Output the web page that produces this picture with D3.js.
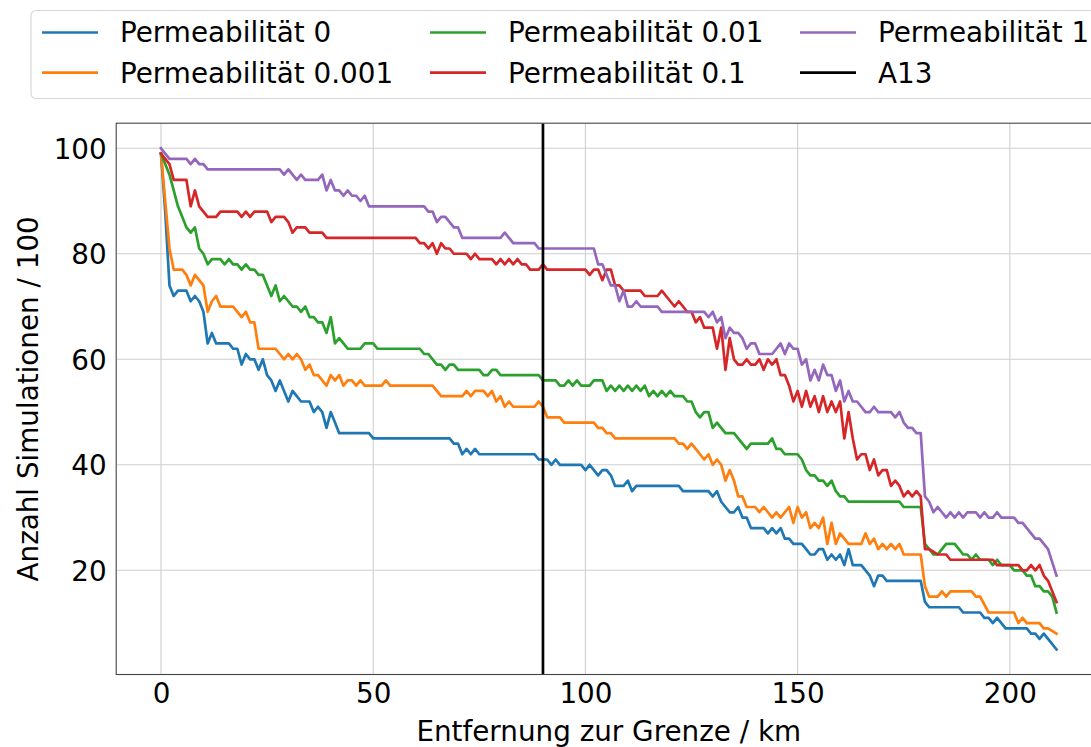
<!DOCTYPE html>
<html>
<head>
<meta charset="utf-8">
<script src="https://cdn.jsdelivr.net/npm/d3@7"></script>
<style>
  html, body { margin: 0; padding: 0; background: #fff; }
  svg { display: block; }
  text { font-family: "DejaVu Sans", sans-serif; fill: #000; }
</style>
</head>
<body>
<svg id="chart" width="1091" height="747"></svg>
<script>
// Share of simulations (out of 100) that still reach a given distance from the border,
// one series per permeability. Each entry is [distance km, count]; flat stretches
// are given only by their end points.
const perm0 = [[0,99],[1,88],[2,74],[3,72],[4,73],[6,73],[7,71],[8,72],[9,71],[10,69],[11,63],[12,65],[13,63],[16,63],[17,62],[18,62],[19,59],[20,61],[21,60],[22,60],[23,58],[24,60],[25,57],[26,56],[27,54],[28,56],[29,54],[30,52],[31,54],[32,53],[33,52],[35,52],[36,50],[37,51],[38,50],[39,47],[40,50],[41,48],[42,46],[49,46],[50,45],[68,45],[69,44],[70,44],[71,42],[72,43],[73,42],[74,43],[75,42],[88,42],[89,41],[91,41],[92,40],[93,41],[94,40],[99,40],[100,39],[101,40],[102,39],[103,38],[104,39],[105,39],[106,38],[107,36],[109,36],[110,37],[111,35],[112,36],[122,36],[123,35],[129,35],[130,34],[131,35],[132,33],[133,32],[134,31],[135,31],[136,32],[137,30],[138,30],[139,28],[142,28],[143,27],[144,28],[145,27],[146,28],[147,26],[148,26],[149,25],[151,25],[152,24],[153,23],[154,23],[155,24],[156,24],[157,22],[158,23],[159,22],[160,23],[161,21],[162,24],[163,21],[165,21],[166,20],[167,19],[168,17],[169,19],[170,19],[171,18],[179,18],[180,14],[181,13],[188,13],[189,12],[193,12],[194,11],[195,11],[196,10],[197,11],[198,10],[199,9],[204,9],[205,8],[206,8],[207,7],[208,8],[209,7],[211,5]];

const perm0001 = [[0,99],[1,90],[2,81],[3,77],[5,77],[6,76],[7,74],[8,76],[9,75],[10,74],[11,69],[12,71],[13,72],[14,70],[17,70],[18,69],[19,68],[20,69],[21,67],[22,67],[23,62],[27,62],[28,61],[29,60],[30,61],[31,60],[32,61],[33,60],[34,58],[35,59],[36,57],[37,57],[38,56],[39,55],[40,57],[41,56],[42,57],[43,55],[44,56],[45,56],[46,55],[47,56],[48,55],[52,55],[53,56],[54,55],[64,55],[65,54],[66,53],[71,53],[72,54],[73,53],[74,54],[76,54],[77,53],[78,54],[79,52],[80,53],[81,51],[82,52],[83,51],[88,51],[89,52],[90,51],[91,49],[94,49],[95,48],[102,48],[103,47],[104,47],[105,46],[106,46],[107,45],[121,45],[122,44],[123,44],[124,43],[125,44],[126,43],[127,42],[128,41],[129,42],[130,40],[131,41],[132,40],[133,37],[134,39],[135,37],[136,34],[137,34],[138,32],[140,32],[141,31],[142,32],[143,31],[144,30],[145,31],[146,30],[147,31],[148,32],[149,29],[150,32],[151,30],[152,31],[153,28],[154,29],[155,28],[156,30],[157,25],[158,29],[159,25],[160,27],[161,26],[162,25],[165,25],[166,27],[167,25],[168,26],[169,24],[170,25],[171,24],[172,25],[173,24],[174,25],[175,23],[179,23],[180,17],[181,15],[183,15],[184,16],[185,15],[186,16],[191,16],[192,15],[193,15],[195,12],[201,12],[202,10],[203,11],[204,10],[207,10],[208,9],[209,9],[211,8]];

const perm001 = [[0,99],[1,97],[2,95],[3,92],[4,89],[5,87],[6,85],[7,84],[8,85],[9,81],[10,80],[11,78],[12,79],[14,79],[15,78],[16,79],[17,78],[18,78],[19,77],[20,78],[21,77],[22,77],[23,76],[24,76],[25,74],[26,72],[27,74],[28,71],[29,72],[30,71],[31,70],[32,70],[33,69],[34,70],[35,68],[36,68],[37,67],[38,67],[39,65],[40,68],[41,63],[42,64],[43,63],[44,62],[47,62],[48,63],[50,63],[51,62],[61,62],[62,61],[63,61],[64,60],[65,59],[66,59],[67,58],[68,59],[69,59],[70,58],[75,58],[76,57],[77,57],[78,58],[79,58],[80,57],[89,57],[90,56],[93,56],[94,55],[95,55],[96,56],[97,55],[98,56],[99,55],[101,55],[102,56],[104,56],[105,54],[106,55],[107,54],[108,55],[109,54],[110,55],[111,54],[112,55],[113,54],[114,55],[115,53],[116,54],[117,53],[118,54],[119,53],[120,54],[121,53],[123,53],[124,52],[125,52],[126,50],[127,49],[128,50],[129,50],[130,47],[131,48],[132,47],[133,46],[135,46],[136,45],[137,44],[138,43],[139,44],[143,44],[144,45],[145,43],[146,43],[147,42],[150,42],[151,41],[152,39],[153,38],[154,38],[155,37],[156,37],[157,36],[158,37],[159,35],[160,34],[161,34],[162,33],[174,33],[175,32],[179,32],[180,25],[181,24],[182,23],[183,23],[184,24],[185,25],[187,25],[188,24],[189,23],[190,23],[191,22],[192,23],[193,22],[195,22],[196,21],[197,22],[198,21],[200,21],[201,20],[203,20],[204,19],[205,19],[206,17],[207,17],[208,16],[209,16],[210,15],[211,12]];

const perm01 = [[0,99],[1,98],[2,97],[3,94],[6,94],[7,89],[8,92],[9,89],[10,88],[11,87],[13,87],[14,88],[18,88],[19,87],[20,88],[21,87],[22,88],[25,88],[26,86],[27,87],[29,87],[30,86],[31,84],[32,85],[34,85],[35,84],[38,84],[39,83],[60,83],[61,82],[62,82],[63,81],[64,82],[65,80],[66,82],[67,81],[68,81],[69,80],[72,80],[73,79],[74,80],[75,79],[78,79],[79,78],[80,79],[81,78],[82,79],[83,78],[84,79],[85,78],[86,78],[87,77],[89,77],[90,78],[91,77],[100,77],[101,76],[102,77],[103,77],[104,75],[105,77],[106,77],[107,74],[108,74],[109,73],[113,73],[114,72],[117,72],[118,73],[119,72],[120,71],[121,70],[122,71],[123,70],[124,69],[125,69],[126,67],[127,68],[128,66],[130,66],[131,62],[132,66],[133,58],[134,64],[135,60],[136,59],[137,59],[138,60],[139,59],[140,59],[141,60],[142,58],[143,60],[144,59],[145,60],[146,57],[147,57],[148,55],[149,52],[150,54],[151,51],[152,54],[153,51],[154,53],[155,50],[156,53],[157,50],[158,52],[159,50],[160,52],[161,45],[162,50],[163,45],[164,41],[165,42],[166,42],[167,39],[168,41],[169,38],[170,39],[171,39],[172,36],[173,37],[174,36],[175,34],[176,35],[177,34],[178,35],[179,34],[180,24],[181,24],[183,23],[185,23],[186,22],[196,22],[197,21],[202,21],[203,20],[204,20],[205,21],[206,20],[207,21],[208,19],[209,18],[211,14]];

const perm1 = [[0,100],[1,99],[2,98],[6,98],[7,97],[8,98],[9,97],[10,97],[11,96],[28,96],[29,95],[30,96],[31,95],[32,94],[33,95],[34,94],[37,94],[38,95],[39,92],[40,94],[41,92],[42,92],[43,91],[44,92],[45,91],[46,91],[47,90],[48,91],[49,89],[62,89],[63,88],[64,88],[65,86],[66,87],[67,87],[68,86],[69,85],[70,85],[71,83],[80,83],[81,84],[82,83],[83,82],[88,82],[89,81],[102,81],[103,78],[104,78],[105,76],[106,74],[107,74],[108,71],[109,73],[110,70],[111,70],[112,71],[113,70],[117,70],[118,69],[128,69],[129,68],[130,69],[131,67],[132,68],[133,64],[134,66],[135,65],[136,65],[137,64],[138,62],[139,63],[140,63],[141,61],[144,61],[145,62],[146,63],[147,61],[148,63],[149,62],[150,62],[151,59],[152,60],[153,56],[154,58],[155,56],[156,59],[157,57],[158,57],[159,54],[160,56],[161,52],[162,54],[163,52],[164,52],[165,51],[166,50],[167,50],[168,51],[169,50],[172,50],[173,49],[174,50],[175,48],[176,47],[177,47],[178,46],[179,46],[180,34],[181,33],[182,31],[183,32],[184,31],[185,30],[186,31],[187,30],[188,31],[189,30],[190,31],[192,31],[193,30],[194,31],[195,30],[196,30],[197,31],[198,30],[201,30],[202,29],[203,29],[204,28],[205,27],[206,26],[207,26],[208,25],[209,24],[211,19]];

const seriesNames = ["Permeabilität 0", "Permeabilität 0.001", "Permeabilität 0.01", "Permeabilität 0.1", "Permeabilität 1"];
const seriesData = [perm0, perm0001, perm001, perm01, perm1];
const seriesColors = ["#1f77b4", "#ff7f0e", "#2ca02c", "#d62728", "#9467bd"];

// Position of the A13 motorway
const a13Label = "A13";
const a13Distance = 90;

const xTicks = [0, 50, 100, 150, 200];
const yTicks = [20, 40, 60, 80, 100];
const xLabel = "Entfernung zur Grenze / km";
const yLabel = "Anzahl Simulationen / 100";

// ---- layout ----
const plot = { left: 116.2, right: 1101.3, top: 123.2, bottom: 674.5 };
const FONT = 27.8;
const LEG_FONT = 27.8;
const LW = 2.7;

const svg = d3.select("#chart");

const x = d3.scaleLinear().domain([-10.55, 221.55]).range([plot.left, plot.right]);
const y = d3.scaleLinear().domain([0.25, 104.75]).range([plot.bottom, plot.top]);

// clip for data lines
svg.append("defs").append("clipPath").attr("id", "plotclip")
  .append("rect")
  .attr("x", plot.left).attr("y", plot.top)
  .attr("width", plot.right - plot.left).attr("height", plot.bottom - plot.top);

// grid
const grid = svg.append("g").attr("class", "grid");
grid.selectAll("line.gx").data(xTicks).join("line")
  .attr("x1", d => x(d)).attr("x2", d => x(d))
  .attr("y1", plot.top).attr("y2", plot.bottom)
  .attr("stroke", "#cfcfcf").attr("stroke-width", 1.1);
grid.selectAll("line.gy").data(yTicks).join("line")
  .attr("x1", plot.left).attr("x2", plot.right)
  .attr("y1", d => y(d)).attr("y2", d => y(d))
  .attr("stroke", "#cfcfcf").attr("stroke-width", 1.1);

// series
const line = d3.line().x(d => x(d[0])).y(d => y(d[1]));
const lines = svg.append("g").attr("clip-path", "url(#plotclip)");
seriesData.forEach((data, i) => {
  lines.append("path")
    .datum(data)
    .attr("d", line)
    .attr("fill", "none")
    .attr("stroke", seriesColors[i])
    .attr("stroke-width", LW)
    .attr("stroke-linejoin", "round")
    .attr("stroke-linecap", "square");
});

// A13 marker
lines.append("line")
  .attr("x1", x(a13Distance)).attr("x2", x(a13Distance))
  .attr("y1", plot.top).attr("y2", plot.bottom)
  .attr("stroke", "#000").attr("stroke-width", LW);

// axes (spines without tick marks)
const xAxis = d3.axisBottom(x).tickValues(xTicks).tickSize(0).tickPadding(0).tickFormat(d3.format("d"));
const yAxis = d3.axisLeft(y).tickValues(yTicks).tickSize(0).tickPadding(0).tickFormat(d3.format("d"));

const gx = svg.append("g").attr("transform", `translate(0,${plot.bottom})`).call(xAxis);
gx.select(".domain").remove();
gx.selectAll("text")
  .attr("y", 28).attr("dy", null)
  .style("font-size", FONT + "px").style("font-family", "DejaVu Sans");

const gy = svg.append("g").attr("transform", `translate(${plot.left},0)`).call(yAxis);
gy.select(".domain").remove();
gy.selectAll("text")
  .attr("x", -9.5).attr("dy", "0.36em")
  .style("font-size", FONT + "px").style("font-family", "DejaVu Sans");

// frame
svg.append("rect")
  .attr("x", plot.left).attr("y", plot.top)
  .attr("width", plot.right - plot.left).attr("height", plot.bottom - plot.top)
  .attr("fill", "none").attr("stroke", "#444").attr("stroke-width", 1.1);

// axis titles
svg.append("text")
  .attr("x", (plot.left + plot.right) / 2).attr("y", 741)
  .attr("text-anchor", "middle")
  .style("font-size", FONT + "px")
  .text(xLabel);

svg.append("text")
  .attr("transform", `translate(37.5,${(plot.top + plot.bottom) / 2}) rotate(-90)`)
  .attr("text-anchor", "middle")
  .style("font-size", FONT + "px")
  .text(yLabel);

// legend
const legendItems = seriesNames.map((n, i) => ({ name: n, color: seriesColors[i] }))
  .concat([{ name: a13Label, color: "#000" }]);
const colX = [42, 430, 800];
const rowY = [32.5, 72.7];
const legend = svg.append("g");
legend.append("rect")
  .attr("x", 31).attr("y", 10.5)
  .attr("width", 1080).attr("height", 88)
  .attr("rx", 5).attr("ry", 5)
  .attr("fill", "#fff").attr("fill-opacity", 0.8)
  .attr("stroke", "#d6d6d6").attr("stroke-width", 1.1);

legendItems.forEach((d, i) => {
  const c = Math.floor(i / 2), r = i % 2;
  const lx = colX[c], ly = rowY[r];
  legend.append("line")
    .attr("x1", lx).attr("x2", lx + 56)
    .attr("y1", ly).attr("y2", ly)
    .attr("stroke", d.color).attr("stroke-width", LW);
  legend.append("text")
    .attr("x", lx + 78).attr("y", ly + 9.8)
    .style("font-size", LEG_FONT + "px")
    .text(d.name);
});
</script>
</body>
</html>
